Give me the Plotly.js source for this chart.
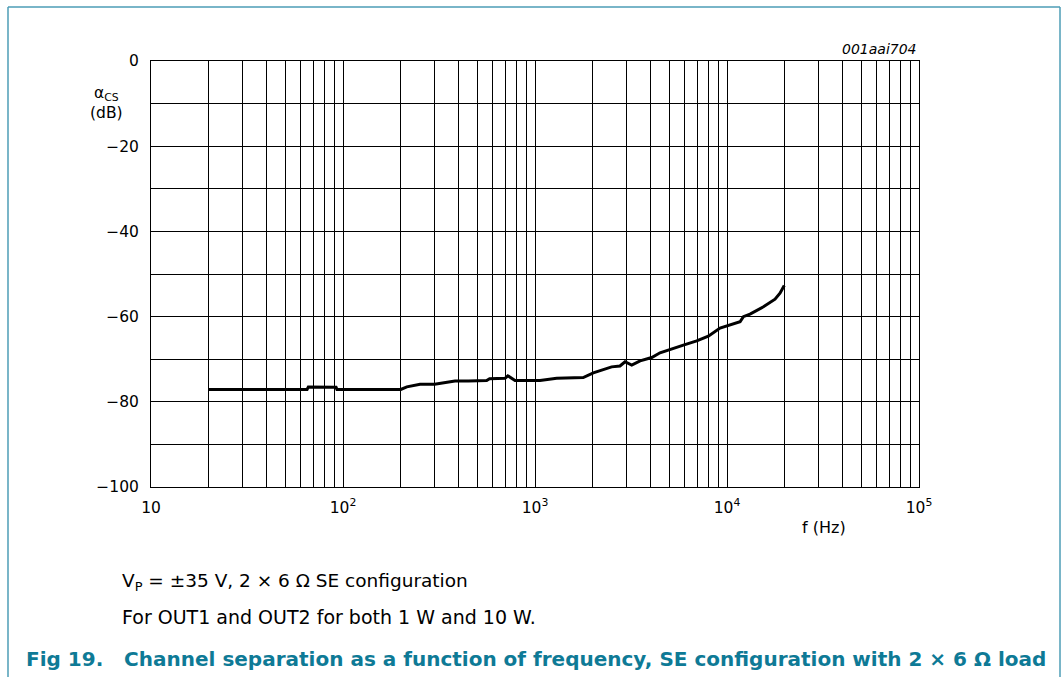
<!DOCTYPE html>
<html>
<head>
<meta charset="utf-8">
<script src="https://cdn.plot.ly/plotly-3.0.1.min.js"></script>
<style>
html,body{margin:0;padding:0;background:#fff;}
#chart{width:1063px;height:677px;}
</style>
</head>
<body>
<div id="chart"></div>
<script>
// Channel separation vs frequency
const freqHz = [20, 30, 50, 65, 66, 80, 92, 93, 120, 150, 200, 215, 252, 300, 347, 383, 450, 560, 580, 650, 698, 722, 787, 900, 1062, 1297, 1500, 1783, 2012, 2507, 2771, 2944, 3190, 3526, 4055, 4479, 5927, 6955, 7993, 9199, 11700, 12170, 13180, 15480, 17790, 18880, 19870];
const sepDb  = [-77.1, -77.1, -77.1, -77.1, -76.5, -76.5, -76.6, -77.1, -77.1, -77.1, -77.1, -76.5, -75.9, -75.9, -75.4, -75.1, -75.1, -75.0, -74.6, -74.6, -74.5, -73.9, -75.0, -75.0, -75.0, -74.5, -74.4, -74.3, -73.2, -71.8, -71.6, -70.6, -71.4, -70.4, -69.6, -68.5, -66.7, -65.7, -64.6, -62.7, -61.2, -60.0, -59.4, -57.7, -55.9, -54.5, -52.7];

const xTickVals = [10, 100, 1000, 10000, 100000];
const xTickText = ["10", "10<sup>2</sup>", "10<sup>3</sup>", "10<sup>4</sup>", "10<sup>5</sup>"];
const yTickVals = [0, -20, -40, -60, -80, -100];
const yTickText = ["0", "\u221220", "\u221240", "\u221260", "\u221280", "\u2212100"];

const FONT = "DejaVu Sans, Liberation Sans, Arial, sans-serif";
const BORDER = "#4d9db6";
const TEAL = "#0e7a96";

const trace = {
  x: freqHz, y: sepDb, type: "scatter", mode: "lines",
  line: {color: "#000", width: 3, shape: "linear"},
  hoverinfo: "skip"
};

const layout = {
  width: 1063, height: 677,
  margin: {l: 151, r: 144, t: 61, b: 190},
  paper_bgcolor: "#fff", plot_bgcolor: "#fff",
  showlegend: false,
  font: {family: FONT, size: 16, color: "#000"},
  xaxis: {
    type: "log", range: [1, 5],
    tickvals: xTickVals, ticktext: xTickText,
    ticks: "outside", ticklen: 6, tickcolor: "rgba(0,0,0,0)",
    showgrid: true, gridcolor: "#000", gridwidth: 1,
    minor: {dtick: "D1", showgrid: true, gridcolor: "#000", gridwidth: 1, ticks: ""},
    showline: true, linecolor: "#000", linewidth: 1, mirror: true,
    zeroline: false,
    tickfont: {family: FONT, size: 15.5, color: "#000"}
  },
  yaxis: {
    range: [-100, 0],
    tickvals: yTickVals, ticktext: yTickText,
    ticks: "outside", ticklen: 8, tickcolor: "rgba(0,0,0,0)",
    showgrid: true, gridcolor: "#000", gridwidth: 1,
    minor: {dtick: 10, showgrid: true, gridcolor: "#000", gridwidth: 1, ticks: ""},
    showline: true, linecolor: "#000", linewidth: 1, mirror: true,
    zeroline: false,
    tickfont: {family: FONT, size: 15.5, color: "#000"}
  },
  shapes: [
    {type: "line", xref: "paper", yref: "paper", x0: -0.1862, x1: -0.1862, y0: 1.1268, y1: -0.47, line: {color: BORDER, width: 1.5}},
    {type: "line", xref: "paper", yref: "paper", x0: 1.1836, x1: 1.1836, y0: 1.1268, y1: -0.47, line: {color: BORDER, width: 1.5}},
    {type: "line", xref: "paper", yref: "paper", x0: -0.1862, x1: 1.1836, y0: 1.1268, y1: 1.1268, line: {color: BORDER, width: 1.5}}
  ],
  annotations: [
    {text: "\u03b1<sub>CS</sub><br>(dB)", xref: "paper", yref: "paper", x: -0.0573, y: 0.901, xanchor: "center", yanchor: "middle", showarrow: false, font: {family: FONT, size: 15.5}},
    {text: "<i>001aai704</i>", xref: "paper", yref: "paper", x: 1.0, y: 1.0, xanchor: "right", yanchor: "bottom", yshift: 2, showarrow: false, font: {family: FONT, size: 14}},
    {text: "f (Hz)", xref: "paper", yref: "paper", x: 0.876, y: -0.094, xanchor: "center", yanchor: "middle", showarrow: false, font: {family: FONT, size: 16}},
    {text: "V<sub>P</sub> = \u00b135 V, 2 \u00d7 6 \u03a9 SE configuration", xref: "paper", yref: "paper", x: -0.0404, y: -0.223, xanchor: "left", yanchor: "middle", showarrow: false, font: {family: FONT, size: 18.5}},
    {text: "For OUT1 and OUT2 for both 1 W and 10 W.", xref: "paper", yref: "paper", x: -0.0404, y: -0.305, xanchor: "left", yanchor: "middle", showarrow: false, font: {family: FONT, size: 19}},
    {text: "<b>Fig 19.   Channel separation as a function of frequency, SE configuration with 2 \u00d7 6 \u03a9 load</b>", xref: "paper", yref: "paper", x: -0.1654, y: -0.403, xanchor: "left", yanchor: "middle", showarrow: false, font: {family: FONT, size: 20, color: TEAL}}
  ]
};

Plotly.newPlot("chart", [trace], layout, {displayModeBar: false, staticPlot: true});
</script>
</body>
</html>
